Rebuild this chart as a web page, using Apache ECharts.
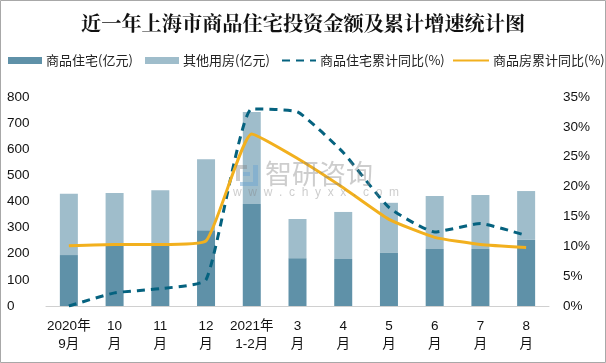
<!DOCTYPE html>
<html><head><meta charset="utf-8">
<style>html,body{margin:0;padding:0;background:#fff}#c{width:606px;height:363px}</style>
<script src="https://cdn.jsdelivr.net/npm/echarts@6/dist/echarts.min.js"></script>
</head><body><div id="c"></div>
<script>
const categories=['2020年\n9月','10\n月','11\n月','12\n月','2021年\n1-2月','3\n月','4\n月','5\n月','6\n月','7\n月','8\n月'];
const residential=[195,232,232,290,390,183,180,203,218,218,253];
const otherHousing=[235,201,211,272,353,150,180,192,203,207,187];
const residentialYoY=[0,2.2,2.9,4.4,33,32.5,25.7,16.5,12.4,13.8,11.8];
const housingYoY=[10.1,10.3,10.3,10.9,28.8,24.7,19.8,14.5,11.5,10.3,9.8];
const leftTicks={min:0,max:800,interval:100};
const rightTicks={min:0,max:35,interval:5};
const legendNames=['商品住宅(亿元)','其他用房(亿元)','商品住宅累计同比(%)','商品房累计同比(%)'];
const font='"Liberation Sans","Noto Sans CJK SC",sans-serif';
const legendFont='"Noto Sans CJK SC",sans-serif';
const chart=echarts.init(document.getElementById('c'),null,{renderer:'canvas'});
const mkLegend=(name,left,w,isLine)=>{
  const l={left:left,top:54,padding:0,itemWidth:w,itemHeight:isLine?9:7,itemGap:0,
    textStyle:{fontFamily:legendFont,fontSize:13,color:'#222',padding:[0,0,0,-1]},
    data:[isLine?{name:name}:{name:name,icon:'rect'}]};
  if(isLine) l.itemStyle={opacity:0};
  return l;
};
const wm='rgba(130,130,130,0.4)';
const logoBlue='rgba(110,165,210,0.5)';
chart.setOption({
  animation:false,
  backgroundColor:'#fff',
  title:{text:'近一年上海市商品住宅投资金额及累计增速统计图',left:81,top:13,padding:0,
    textStyle:{fontFamily:'"Noto Serif CJK SC","Noto Sans CJK SC",serif',fontSize:20.2,fontWeight:'bold',color:'#111'}},
  legend:[mkLegend(legendNames[0],8,34,false),mkLegend(legendNames[1],145,34,false),mkLegend(legendNames[2],281,34,true),mkLegend(legendNames[3],452,36,true)],
  grid:{left:46,right:57,top:97,bottom:57},
  xAxis:{type:'category',data:categories,
    axisLine:{lineStyle:{color:'#d0d0d0',width:1}},axisTick:{show:false},
    axisLabel:{interval:0,fontFamily:font,fontSize:13.5,color:'#111',lineHeight:18,margin:11}},
  yAxis:[
    {type:'value',...leftTicks,splitLine:{show:false},axisLine:{show:false},axisTick:{show:false},
      axisLabel:{fontFamily:font,fontSize:13.5,color:'#111',align:'left',margin:39}},
    {type:'value',...rightTicks,position:'right',splitLine:{show:false},axisLine:{show:false},axisTick:{show:false},
      axisLabel:{fontFamily:font,fontSize:13.5,color:'#111',formatter:'{value}%',margin:14}}],
  series:[
    {name:legendNames[0],type:'bar',stack:'a',barWidth:18,data:residential,itemStyle:{color:'#5F91A8'}},
    {name:legendNames[1],type:'bar',stack:'a',barWidth:18,data:otherHousing,itemStyle:{color:'#9FBDCB'}},
    {name:legendNames[2],type:'line',yAxisIndex:1,data:residentialYoY,smooth:0.15,symbol:'none',
      lineStyle:{color:'#05627F',width:3,type:[8,6]},itemStyle:{color:'#05627F'}},
    {name:legendNames[3],type:'line',yAxisIndex:1,data:housingYoY,smooth:0.15,symbol:'none',
      lineStyle:{color:'#F2B01E',width:3},itemStyle:{color:'#F2B01E'}}
  ],
  graphic:[
    {type:'rect',z:100,silent:true,shape:{x:0.5,y:0.5,width:605,height:362},style:{fill:'none',stroke:'#a8a8a8',lineWidth:1}},
    {type:'rect',z:50,silent:true,shape:{x:236,y:165,width:11,height:4},style:{fill:wm}},
    {type:'rect',z:50,silent:true,shape:{x:236,y:169,width:4,height:12},style:{fill:wm}},
    {type:'rect',z:50,silent:true,shape:{x:243,y:172,width:7,height:4},style:{fill:logoBlue}},
    {type:'rect',z:50,silent:true,shape:{x:253,y:165,width:5,height:21},style:{fill:logoBlue}},
    {type:'rect',z:50,silent:true,shape:{x:240,y:182,width:13,height:4},style:{fill:logoBlue}},
    {type:'text',z:50,silent:true,left:265,top:160,style:{text:'智研咨询',fill:wm,font:'27px "Noto Sans CJK SC",sans-serif'}},
    {type:'text',z:50,silent:true,left:233,top:187,style:{text:'w  w  w  .  c  h  y  x  x  .  c  o  m',fill:wm,font:'12px "Liberation Sans",sans-serif'}}
  ]
});
</script></body></html>
